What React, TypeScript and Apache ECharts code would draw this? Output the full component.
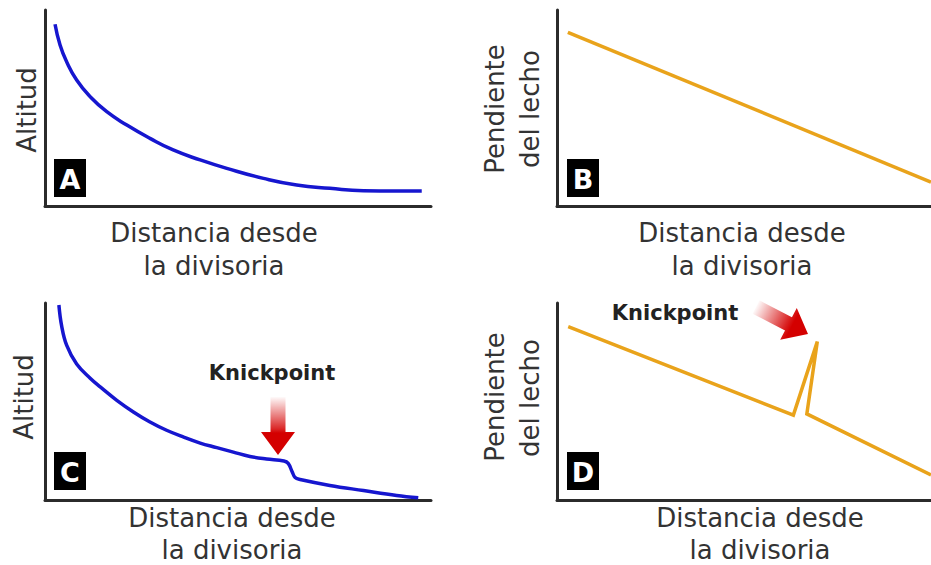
import React, { useEffect, useRef } from "react";
import * as echarts from "echarts";

// Panel A: altitude vs distance from divide (smooth concave profile)
const distA = [2.6, 3.9, 5.6, 8.2, 11.7, 16.0, 21.2, 27.2, 33.2, 40.2, 47.1, 56.6, 65.2, 73.8, 82.5, 91.1, 97.6];
const altA = [92.7, 82.1, 73.6, 64.3, 55.8, 48.1, 41.3, 34.5, 28.6, 23.5, 19.2, 14.1, 10.7, 9.0, 7.8, 7.7, 7.7];

// Panel B: bed slope vs distance (linear decrease)
const distB = [2.9, 100];
const slopeB = [88.6, 12.2];

// Panel C: altitude profile with a knickpoint
const distC = [3.6, 4.3, 5.6, 8.2, 11.7, 14.3, 18.6, 22.9, 27.2, 31.5, 35.8, 40.2, 44.5, 48.8, 53.1, 57.4, 61.9, 63.0, 64.0, 64.8, 66.1, 73.8, 82.5, 91.1, 96.7];
const altC = [99.0, 88.5, 78.6, 69.0, 61.8, 57.4, 50.6, 44.7, 39.6, 35.4, 32.0, 28.9, 26.6, 24.3, 22.1, 20.8, 19.8, 18.6, 14.5, 11.4, 10.4, 7.4, 4.8, 2.3, 1.1];

// Panel D: bed slope with a spike at the knickpoint
const distD = [3.0, 63.2, 69.6, 66.8, 100];
const slopeD = [88.0, 43.1, 80.4, 43.7, 12.7];

const xTitle = ["Distancia desde", "la divisoria"];
const yTitleAlt = "Altitud";
const yTitleSlope = ["Pendiente", "del lecho"];
const panelLetters = ["A", "B", "C", "D"];
const knickLabel = "Knickpoint";

const zip = (xs: number[], ys: number[]) => xs.map((x, i) => [x, ys[i]]);

const BLUE = "#1616cf";
const ORANGE = "#e9a31b";
const RED = "#d40000";
const AXIS = "#2b2b2b";
const TEXT = "#333333";
const FONT = '"DejaVu Sans", Verdana, sans-serif';

function arrowPts(x1: number, y1: number, x2: number, y2: number, sw: number, hw: number, hl: number) {
  const dx = x2 - x1, dy = y2 - y1;
  const L = Math.hypot(dx, dy);
  const ux = dx / L, uy = dy / L;
  const nx = -uy, ny = ux;
  const bx = x2 - ux * hl, by = y2 - uy * hl;
  return [
    [x1 + nx * sw / 2, y1 + ny * sw / 2],
    [bx + nx * sw / 2, by + ny * sw / 2],
    [bx + nx * hw / 2, by + ny * hw / 2],
    [x2, y2],
    [bx - nx * hw / 2, by - ny * hw / 2],
    [bx - nx * sw / 2, by - ny * sw / 2],
    [x1 - nx * sw / 2, y1 - ny * sw / 2],
  ];
}

function txt(text: string, x: number, y: number, size: number, opts: any = {}) {
  return {
    type: "text",
    x,
    y,
    rotation: opts.rotation || 0,
    z: 10,
    style: {
      text,
      font: `${opts.bold ? "bold " : ""}${size}px ${FONT}`,
      fill: opts.fill || TEXT,
      align: "center",
      verticalAlign: "middle",
      textAlign: "center",
      textVerticalAlign: "middle",
    },
  };
}

function letterBox(letter: string, x: number, y: number) {
  return [
    { type: "rect", z: 10, shape: { x, y, width: 32, height: 38 }, style: { fill: "#000" } },
    txt(letter, x + 16, y + 20, 27, { bold: true, fill: "#fff" }),
  ];
}

export default function App() {
  const ref = useRef<HTMLDivElement>(null);
  useEffect(() => {
    if (!ref.current) return;
    const chart = echarts.init(ref.current, null, { renderer: "svg" });
    const grids = [
      { left: 45, top: 10, width: 386, height: 196 },
      { left: 557, top: 10, right: 0, height: 196 },
      { left: 45, top: 303, width: 386, height: 197 },
      { left: 557, top: 303, right: 0, height: 197 },
    ];
    const axis = (i: number) => ({
      gridIndex: i,
      type: "value",
      min: 0,
      max: 100,
      axisLine: { show: true, onZero: false, lineStyle: { color: AXIS, width: 3 } },
      axisTick: { show: false },
      axisLabel: { show: false },
      splitLine: { show: false },
    });
    const lineSeries = (i: number, data: number[][], color: string, smooth: any) => ({
      type: "line",
      xAxisIndex: i,
      yAxisIndex: i,
      data,
      smooth,
      symbol: "none",
      showSymbol: false,
      lineStyle: { color, width: 3.5, join: "miter" },
    });

    const pC = arrowPts(278, 397, 278, 455, 15, 34, 23);
    const pD = arrowPts(756, 307, 808, 334, 15, 36, 22);

    const graphic: any[] = [
      // axis titles
      txt(xTitle[0], 214, 233, 26),
      txt(xTitle[1], 214, 266, 26),
      txt(xTitle[0], 742, 233, 26),
      txt(xTitle[1], 742, 266, 26),
      txt(xTitle[0], 232, 518, 26),
      txt(xTitle[1], 232, 550, 26),
      txt(xTitle[0], 760, 518, 26),
      txt(xTitle[1], 760, 550, 26),
      txt(yTitleAlt, 27, 110, 26, { rotation: Math.PI / 2 }),
      txt(yTitleAlt, 24, 397, 26, { rotation: Math.PI / 2 }),
      txt(yTitleSlope[0], 495, 109, 26, { rotation: Math.PI / 2 }),
      txt(yTitleSlope[1], 530, 109, 26, { rotation: Math.PI / 2 }),
      txt(yTitleSlope[0], 495, 397, 26, { rotation: Math.PI / 2 }),
      txt(yTitleSlope[1], 530, 398, 26, { rotation: Math.PI / 2 }),
      // panel letters
      ...letterBox(panelLetters[0], 54, 159),
      ...letterBox(panelLetters[1], 567, 159),
      ...letterBox(panelLetters[2], 54, 452),
      ...letterBox(panelLetters[3], 567, 452),
      // knickpoint annotations
      txt(knickLabel, 272, 373, 21, { bold: true, fill: "#222" }),
      txt(knickLabel, 675, 313, 21, { bold: true, fill: "#222" }),
      {
        type: "polygon",
        z: 10,
        shape: { points: pC },
        style: {
          fill: {
            type: "linear", x: 0, y: 397, x2: 0, y2: 455, global: true,
            colorStops: [
              { offset: 0, color: "rgba(212,0,0,0.02)" },
              { offset: 0.55, color: "rgba(212,0,0,0.85)" },
              { offset: 0.62, color: RED },
              { offset: 1, color: RED },
            ],
          },
        },
      },
      {
        type: "polygon",
        z: 10,
        shape: { points: pD },
        style: {
          fill: {
            type: "linear", x: 756, y: 307, x2: 796, y2: 328, global: true,
            colorStops: [
              { offset: 0, color: "rgba(212,0,0,0.02)" },
              { offset: 0.75, color: "rgba(212,0,0,0.85)" },
              { offset: 0.9, color: RED },
              { offset: 1, color: RED },
            ],
          },
        },
      },
    ];

    chart.setOption({
      animation: false,
      backgroundColor: "#ffffff",
      grid: grids,
      xAxis: [0, 1, 2, 3].map(axis),
      yAxis: [0, 1, 2, 3].map(axis),
      series: [
        lineSeries(0, zip(distA, altA), BLUE, 0.5),
        lineSeries(1, zip(distB, slopeB), ORANGE, false),
        lineSeries(2, zip(distC, altC), BLUE, 0.4),
        lineSeries(3, zip(distD, slopeD), ORANGE, false),
      ],
      graphic,
    });
    return () => chart.dispose();
  }, []);
  return (
    <div
      ref={ref}
      style={{ position: "fixed", left: 0, top: 0, width: 931, height: 565, background: "#fff" }}
    />
  );
}
